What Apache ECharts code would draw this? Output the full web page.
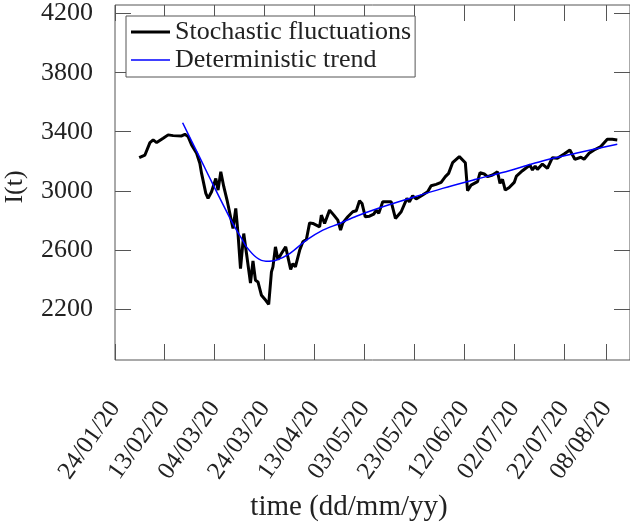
<!DOCTYPE html>
<html><head><meta charset="utf-8">
<script src="https://cdn.jsdelivr.net/npm/echarts@6/dist/echarts.min.js"></script>
<style>html,body{margin:0;padding:0;background:#fff}#c{width:630px;height:530px}</style>
</head><body><div id="c"></div><script>
// x values are days since 24/01/20
const tickLabels = ['24/01/20','13/02/20','04/03/20','24/03/20','13/04/20','03/05/20','23/05/20','12/06/20','02/07/20','22/07/20','08/08/20'];
const yTicks = [2200, 2600, 3000, 3400, 3800, 4200];
const seriesNames = ['Stochastic fluctuations', 'Deterministic trend'];

const fluctDays = [9.7,12,14,15.3,16.7,19.3,21.3,23.3,26.7,28,
  29.3,30.7,32.7,34,34.7,35.3,36.4,37.3,38.7,40.4,
  41.3,42.4,43.6,44.9,46.3,47.3,48.4,49.3,50.3,51.6,
  52.7,54.3,55.3,56.3,57.3,58.7,60.4,61.6,62.7,63.3,
  64.3,65.3,66.7,68.4,70.4,71.3,72.3,74,75.3,76.7,
  78,79.3,82,82.7,84,86,87.7,89.3,90.4,91.3,
  93.3,95.3,96.7,98,99,100.3,102,103.7,104.7,105.7,
  107.3,110.7,112.4,114.7,117,118,119.3,120.7,123.3,125.3,
  126.7,128.7,130.7,132.4,133.7,135.3,138,140.4,141.3,142.7,
  145.3,146.3,148,149.3,151.3,153.3,154.3,155.3,156.4,158,
  160,160.9,163.3,166.3,167.3,168.4,169.3,171.3,173.3,175.3,
  177.3,180,182.3,184.3,186.7,188,190,192,194.7,197.3,
  199.3,201.3];
const fluctVals = [3226,3244,3328,3346,3328,3357,3380,3375,3373,3384,
  3368,3312,3256,3188,3120,3109,2985,2951,2996,3086,
  3007,3131,3030,2940,2827,2748,2883,2714,2477,2714,
  2579,2380,2529,2398,2387,2297,2263,2236,2455,2489,
  2624,2538,2579,2624,2471,2511,2489,2601,2658,2674,
  2786,2782,2759,2838,2782,2872,2838,2804,2737,2786,
  2827,2861,2868,2935,2917,2827,2831,2845,2872,2850,
  2928,2928,2816,2861,2951,2928,2969,2947,2974,2996,
  3037,3046,3059,3098,3120,3192,3233,3192,3003,3041,
  3064,3125,3116,3098,3109,3131,3053,3080,3007,3025,
  3059,3102,3138,3177,3143,3170,3147,3183,3154,3226,
  3222,3251,3278,3215,3229,3215,3256,3278,3301,3350,
  3350,3346];

const trendDays = [27.1,34,40,46,48.7,50.7,52.7,56.7,60.5,64.5,70,76.7,83.3,90,96.7,104.7,118,131.3,144.7,158,171.3,184.7,201.3];
const trendVals = [3462,3226,3020,2820,2737,2681,2624,2552,2527,2534,2579,2669,2737,2782,2831,2880,2951,3019,3080,3138,3204,3256,3317];

function labelToDay(s){
  const p = s.split('/').map(Number);
  return Math.round((Date.UTC(2000 + p[2], p[1] - 1, p[0]) - Date.UTC(2020, 0, 24)) / 86400000);
}
const xTicks = tickLabels.map(labelToDay);
const labelByDay = {};
xTicks.forEach((d, i) => { labelByDay[d] = tickLabels[i]; });

const FONT = 'Liberation Serif';
const AX = '#555';
const TXT = '#222';
const TICK = 16;
const X_MIN = 0, X_MAX = 206.4, Y_MIN = 1860, Y_MAX = 4257;

const zip = (a, b) => a.map((v, i) => [v, b[i]]);
const crisp = v => Math.round(v - 0.5) + 0.5;

// tick marks on all four sides, placed through the axes' own scales
function xTickItem(params, api) {
  const x = crisp(api.coord([api.value(0), Y_MIN])[0]);
  const yb = api.coord([X_MIN, Y_MIN])[1];
  const yt = api.coord([X_MIN, Y_MAX])[1];
  const st = {stroke: AX, lineWidth: 1};
  return {type: 'group', children: [
    {type: 'line', shape: {x1: x, y1: yb, x2: x, y2: yb - TICK}, style: st},
    {type: 'line', shape: {x1: x, y1: yt, x2: x, y2: yt + TICK}, style: st}
  ]};
}
function yTickItem(params, api) {
  const y = crisp(api.coord([X_MIN, api.value(1)])[1]);
  const xl = api.coord([X_MIN, Y_MIN])[0];
  const xr = api.coord([X_MAX, Y_MIN])[0];
  const st = {stroke: AX, lineWidth: 1};
  return {type: 'group', children: [
    {type: 'line', shape: {x1: xl, y1: y, x2: xl + TICK, y2: y}, style: st},
    {type: 'line', shape: {x1: xr, y1: y, x2: xr - TICK, y2: y}, style: st}
  ]};
}

const chart = echarts.init(document.getElementById('c'), null, {renderer: 'canvas'});
chart.setOption({
  animation: false,
  backgroundColor: '#fff',
  grid: {left: 115, top: 5, width: 516, height: 355, containLabel: false,
    show: true, borderColor: AX, borderWidth: 1, backgroundColor: 'transparent'},
  legend: {
    orient: 'vertical', left: 126, top: 16,
    padding: [3, 4, 4, 5], itemGap: 2, itemWidth: 39, itemHeight: 3,
    symbolKeepAspect: true,
    borderColor: AX, borderWidth: 1, backgroundColor: '#fff',
    textStyle: {fontFamily: FONT, fontSize: 26, color: TXT},
    data: [
      {name: seriesNames[0], icon: 'path://M0,0h13v1h-13z'},
      {name: seriesNames[1], icon: 'path://M0,0h26v1h-26z'}
    ]
  },
  xAxis: [{
    type: 'value', position: 'bottom', min: X_MIN, max: X_MAX,
    axisLine: {show: false}, axisTick: {show: false},
    axisLabel: {show: true, customValues: xTicks, rotate: 55, margin: 44,
      fontFamily: FONT, fontSize: 25, color: TXT,
      formatter: v => labelByDay[Math.round(v)] || ''},
    splitLine: {show: false}
  }],
  yAxis: [{
    type: 'value', position: 'left', min: Y_MIN, max: Y_MAX,
    axisLine: {show: false}, axisTick: {show: false},
    axisLabel: {show: true, customValues: yTicks, margin: 22,
      fontFamily: FONT, fontSize: 26, color: TXT,
      formatter: v => String(v)},
    splitLine: {show: false}
  }],
  graphic: [{
    type: 'text', x: 349, y: 507,
    style: {text: 'time (dd/mm/yy)', font: '29px "Liberation Serif"', fill: TXT,
      align: 'center', verticalAlign: 'middle', textAlign: 'center', textVerticalAlign: 'middle'}
  }, {
    type: 'text', x: 15.5, y: 187, rotation: Math.PI / 2,
    style: {text: 'I(t)', font: '26px "Liberation Serif"', fill: TXT,
      align: 'center', verticalAlign: 'middle', textAlign: 'center', textVerticalAlign: 'middle'}
  }],
  series: [{
    name: seriesNames[0], type: 'line',
    data: zip(fluctDays, fluctVals), symbol: 'none', showSymbol: false,
    lineStyle: {color: '#000', width: 3}, itemStyle: {color: '#000'},
    z: 2
  }, {
    name: seriesNames[1], type: 'line',
    data: zip(trendDays, trendVals), symbol: 'none', showSymbol: false, smooth: 0.3,
    lineStyle: {color: '#0000ff', width: 1.5}, itemStyle: {color: '#0000ff'},
    z: 3
  }, {
    name: 'xTicks', type: 'custom', silent: true, clip: false, z: 1,
    renderItem: xTickItem, data: xTicks.map(d => [d, Y_MIN])
  }, {
    name: 'yTicks', type: 'custom', silent: true, clip: false, z: 1,
    renderItem: yTickItem, data: yTicks.map(v => [X_MIN, v])
  }]
});
</script></body></html>
